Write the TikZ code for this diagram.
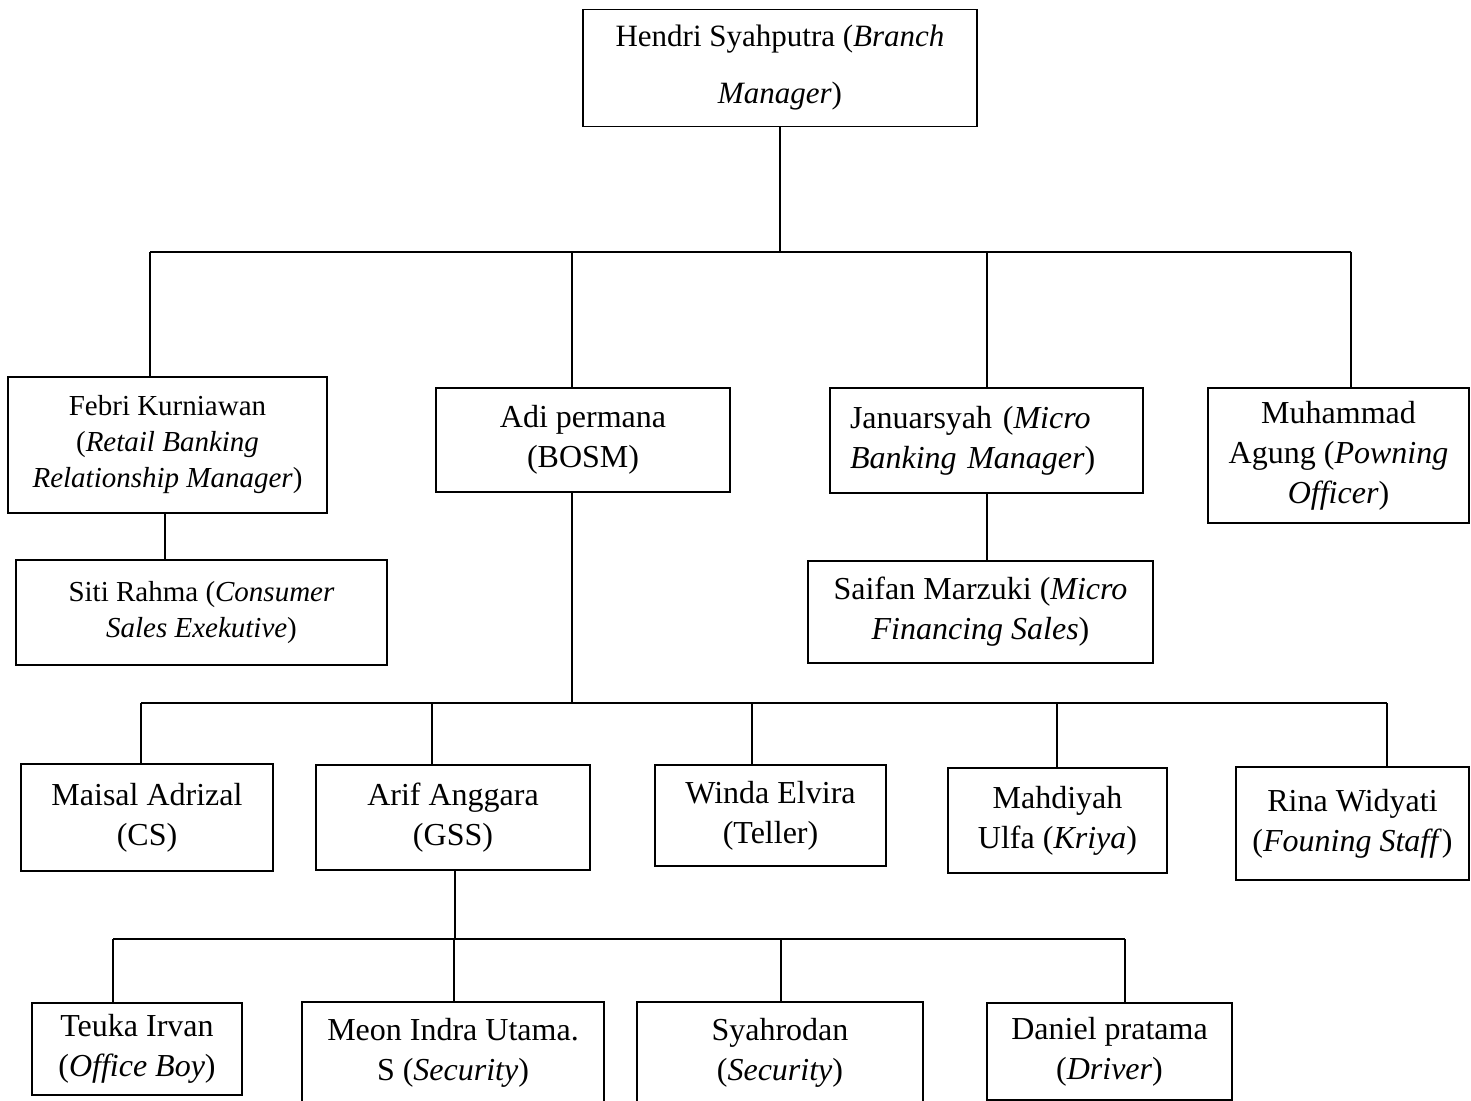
\documentclass[tikz,border=0pt]{standalone}
\usepackage{fontspec}
\setmainfont{Liberation Serif}
\tikzset{
  staff/.style={draw, line width=0.9pt, align=center, inner sep=2pt,
    font=\fontsize{16pt}{20pt}\selectfont},
  small/.style={font=\fontsize{14.5pt}{18pt}\selectfont},
  boxsize/.style 2 args={minimum width=#1*0.5pt, minimum height=#2*0.5pt},
  link/.style={line width=0.85pt},
}
\begin{document}
\begin{tikzpicture}[x=0.5pt, y=-0.5pt]
\useasboundingbox (0,0) rectangle (1471,1101);
% branch manager
\node[staff, boxsize={394}{117}, font=\fontsize{15.5pt}{19pt}\selectfont] (hendri) at (780,68)
  {Hendri Syahputra (\textit{Branch}\\[9.5pt]\textit{Manager})};
% second level
\node[staff, small, boxsize={319}{136}] (febri) at (167.5,445)
  {Febri Kurniawan\\(\textit{Retail Banking}\\\textit{Relationship Manager})};
\node[staff, boxsize={294}{104}] (adi) at (583,440) {Adi permana\\(BOSM)};
\node[staff, boxsize={313}{105}, align=left, text width=136.5pt, inner xsep=10pt] (janu) at (986.5,440.5)
  {Januarsyah (\textit{Micro}\\\textit{Banking Manager})};
\node[staff, boxsize={261}{135}] (muham) at (1338.5,455.5)
  {Muhammad\\Agung (\textit{Powning}\\\textit{Officer})};
\node[staff, small, boxsize={371}{105}] (siti) at (201.5,612.5)
  {Siti Rahma (\textit{Consumer}\\\textit{Sales Exekutive})};
\node[staff, boxsize={345}{102}] (saifan) at (980.5,612)
  {Saifan Marzuki (\textit{Micro}\\\textit{Financing Sales})};
% under BOSM
\node[staff, boxsize={252}{107}] (maisal) at (147,817.5) {Maisal Adrizal\\(CS)};
\node[staff, boxsize={274}{105}] (arif) at (453,817.5) {Arif Anggara\\(GSS)};
\node[staff, boxsize={231}{101}] (winda) at (770.5,815.5) {Winda Elvira\\(Teller)};
\node[staff, boxsize={219}{105}] (mahdi) at (1057.5,820.5) {Mahdiyah\\Ulfa (\textit{Kriya})};
\node[staff, boxsize={233}{113}] (rina) at (1352.5,823.5) {Rina Widyati\\(\textit{Founing Staff})};
% under GSS
\node[staff, boxsize={210}{92}] (teuka) at (137,1049) {Teuka Irvan\\(\textit{Office Boy})};
\node[staff, boxsize={302}{102}] (meon) at (453,1053) {Meon Indra Utama.\\S (\textit{Security})};
\node[staff, boxsize={286}{102}] (syah) at (780,1053) {Syahrodan\\(\textit{Security})};
\node[staff, boxsize={245}{97}] (daniel) at (1109.5,1051.5) {Daniel pratama\\(\textit{Driver})};

% bus lines
\coordinate (tb) at (780,252);
\coordinate (tf) at (150,252);
\coordinate (ta) at (572,252);
\coordinate (tj) at (987,252);
\coordinate (tm) at (1351,252);
\draw[link] (hendri.south) -- (tb);
\draw[link] (tf) -- (tm);
\foreach \c/\n in {tf/febri, ta/adi, tj/janu, tm/muham}
  \draw[link] (\c) -- (\c |- \n.north);

\coordinate (fs) at (165,513);
\draw[link] (fs |- febri.south) -- (fs |- siti.north);
\draw[link] (tj |- janu.south) -- (tj |- saifan.north);

\coordinate (mb) at (572,703);
\coordinate (m1) at (141,703);
\coordinate (m2) at (432,703);
\coordinate (m3) at (752,703);
\coordinate (m4) at (1057,703);
\coordinate (m5) at (1387,703);
\draw[link] (mb |- adi.south) -- (mb);
\draw[link] (m1) -- (m5);
\foreach \c/\n in {m1/maisal, m2/arif, m3/winda, m4/mahdi, m5/rina}
  \draw[link] (\c) -- (\c |- \n.north);

\coordinate (gb) at (455,939);
\coordinate (g1) at (113,939);
\coordinate (g2) at (454,939);
\coordinate (g3) at (781,939);
\coordinate (g4) at (1125,939);
\draw[link] (gb |- arif.south) -- (gb);
\draw[link] (g1) -- (g4);
\foreach \c/\n in {g1/teuka, g2/meon, g3/syah, g4/daniel}
  \draw[link] (\c) -- (\c |- \n.north);
\end{tikzpicture}
\end{document}
